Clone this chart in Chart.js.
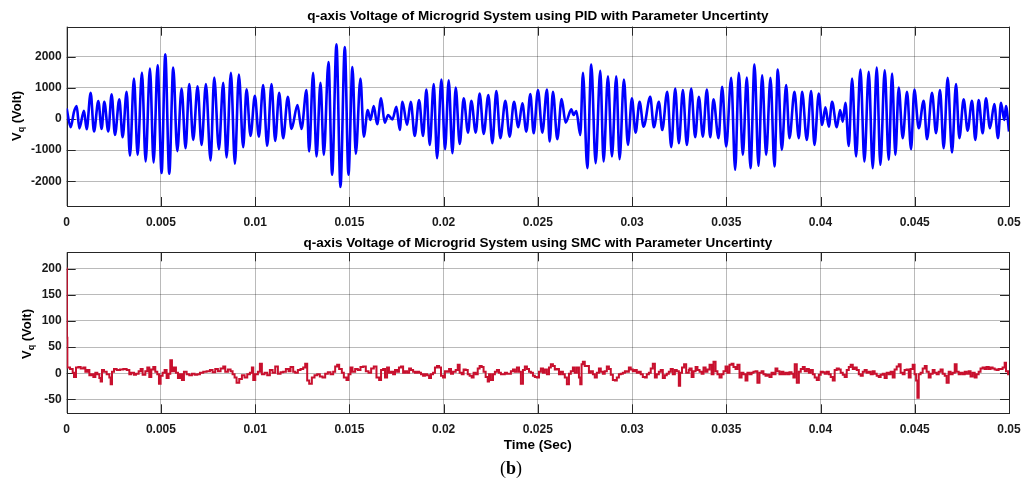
<!DOCTYPE html>
<html>
<head>
    <title>q-axis Voltage of Microgrid System</title>
    <script src="https://cdn.jsdelivr.net/npm/chart.js"></script>
    <style>
        body {
            margin: 0;
            width: 1022px;
            height: 488px;
            background: #fff;
            position: relative;
            overflow: hidden;
            font-family: "Liberation Sans", Arial, sans-serif;
        }

        .box {
            position: absolute;
            left: 0;
            width: 1022px;
        }

        .ylab {
            position: absolute;
            transform: translate(-50%, -50%) rotate(-90deg);
            font-weight: bold;
            font-size: 13px;
            white-space: nowrap;
            color: #000;
        }

        .ylab sub {
            font-size: 9px;
            vertical-align: -3px;
        }

        .caption {
            position: absolute;
            left: 511px;
            top: 468px;
            transform: translate(-50%, -50%);
            font-family: "Liberation Serif", "DejaVu Serif", serif;
            font-size: 18px;
            color: #000;
        }
    </style>
</head>
<body>
<div class="box" style="top:0;height:232px"><canvas id="pid-chart" width="1022" height="232"></canvas></div>
<div class="box" style="top:232px;height:256px"><canvas id="smc-chart" width="1022" height="256"></canvas></div>
<div class="ylab" style="left:17px;top:116px">V<sub>q</sub> (Volt)</div>
<div class="ylab" style="left:27px;top:334px">V<sub>q</sub> (Volt)</div>
<div class="caption">(<b>b</b>)</div>

<script>
    // time in ms, voltage in volt (peaks and troughs)
    const pidTitle = 'q-axis Voltage of Microgrid System using PID with Parameter Uncertinty';
    const smcTitle = 'q-axis Voltage of Microgrid System using SMC with Parameter Uncertinty';
    const xTitle = 'Time (Sec)';

    const timeTicks = [0, 5, 10, 15, 20, 25, 30, 35, 40, 45, 50];
    const timeLabels = ['0', '0.005', '0.01', '0.015', '0.02', '0.025', '0.03', '0.035', '0.04', '0.045', '0.05'];
    const pidTicks = [-2000, -1000, 0, 1000, 2000];
    const smcTicks = [-50, 0, 50, 100, 150, 200];

    const pidVolt = [
        [0, 340], [0.21, -265], [0.387, 230], [0.529, 415], [0.670, -300], [0.917, 265], [1.059, -330], [1.271, 840],
        [1.448, -400], [1.677, 575], [1.854, -320], [1.995, 555], [2.207, -400], [2.384, 790], [2.561, -510],
        [2.791, 630], [2.968, -585], [3.180, 870], [3.356, -1180], [3.568, 1300], [3.763, -1150], [3.993, 1490],
        [4.187, -1360], [4.417, 1620], [4.611, -1390], [4.823, 1720], [5.036, -1730], [5.230, 2075], [5.442, -1755],
        [5.654, 1650], [5.866, -1030], [6.096, 980], [6.308, -935], [6.502, 1117], [6.714, -670], [6.944, 1050],
        [7.156, -830], [7.386, 1117], [7.633, -1330], [7.828, 1330], [8.075, -970], [8.305, 1160], [8.482, -1230],
        [8.712, 1480], [8.924, -1436], [9.136, 1425], [9.365, -905], [9.542, 950], [9.754, -540], [9.984, 745],
        [10.196, -565], [10.426, 1085], [10.638, -860], [10.868, 1117], [11.062, -700], [11.274, 840], [11.486, -617],
        [11.734, 713], [11.928, -320], [12.246, 447], [12.458, -320], [12.724, 925], [12.865, -1040],
        [13.077, 1479], [13.254, -1202], [13.466, 1160], [13.643, -1149], [13.890, 1830], [14.085, -1787],
        [14.314, 2394], [14.527, -2181], [14.756, 2309], [14.951, -1787], [15.163, 1670], [15.339, -1117],
        [15.587, 1298], [15.764, -564], [15.976, 287], [16.117, -32], [16.294, 415], [16.470, -170], [16.683, 660],
        [16.877, -117], [17.054, 128], [17.283, -11], [17.496, 394], [17.672, -351], [17.814, 553], [18.061, -191],
        [18.256, 553], [18.468, -543], [18.697, 606], [18.909, -543], [19.086, 947], [19.263, -830], [19.475, 1117],
        [19.652, -1255], [19.882, 1266], [20.076, -968], [20.270, 1245], [20.465, -1096], [20.642, 1011],
        [20.854, -798], [21.066, 660], [21.295, -436], [21.472, 585], [21.702, -436], [21.914, 819], [22.126, -479],
        [22.374, 766], [22.586, -777], [22.798, 894], [23.010, -617], [23.275, 585], [23.505, -564], [23.734, 553],
        [23.965, -266], [24.177, 500], [24.389, -404], [24.601, 798], [24.777, -457], [25.007, 926], [25.237, -436],
        [25.484, 947], [25.626, -723],
        [25.802, 872], [26.032, -649], [26.262, 638], [26.474, -117], [26.775, 309], [26.898, 128], [27.040, 255],
        [27.252, -511], [27.393, 1479], [27.623, -1575], [27.835, 1745], [28.065, -1415], [28.312, 1543],
        [28.489, -1362], [28.719, 1373], [28.931, -1202], [29.161, 1373], [29.337, -1287], [29.567, 1266],
        [29.779, -830], [29.991, 660], [30.186, -436], [30.398, 553], [30.610, -245], [30.963, 713], [31.157, -266],
        [31.422, 553], [31.600, -351], [31.865, 872], [32.077, -904], [32.289, 979], [32.483, -777], [32.695, 926],
        [32.907, -830], [33.137, 979], [33.349, -585], [33.544, 713], [33.756, -564], [33.968, 947], [34.145, -585],
        [34.321, 628], [34.586, -617], [34.781, 1032], [34.993, -883], [35.258, 1319], [35.470, -1628],
        [35.664, 1479], [35.876, -1149], [36.088, 1330], [36.283, -1575], [36.495, 1745], [36.707, -1500],
        [36.902, 1404], [37.114, -1149], [37.344, 1319], [37.556, -1521], [37.732, 1585], [37.945, -990],
        [38.175, 1085], [38.351, -617],
        [38.616, 872], [38.846, -617], [39.023, 872], [39.270, -670], [39.500, 894], [39.677, -830], [39.906, 819],
        [40.083, -191], [40.260, 372], [40.437, -245], [40.613, 553], [40.861, -266], [41.038, 287], [41.179, -85],
        [41.320, 521], [41.497, -862], [41.674, 1298], [41.886, -1202], [42.116, 1585], [42.328, -1362],
        [42.557, 1511], [42.769, -1575], [42.981, 1649], [43.176, -1468], [43.406, 1564], [43.618, -1309],
        [43.795, 1458], [43.971, -1149], [44.148, 1011], [44.360, -617], [44.590, 872], [44.802, -968], [44.979, 947],
        [45.208, -298], [45.474, 585], [45.650, -649], [45.916, 841], [46.128, -457], [46.340, 926], [46.534, -936],
        [46.746, 1319], [46.976, -1075], [47.188, 1117], [47.365, -617], [47.594, 628], [47.806, -372],
        [48.036, 585], [48.213, -670], [48.390, 606], [48.602, -457], [48.778, 660], [48.991, -298], [49.221, 479],
        [49.415, -617], [49.574, 521], [49.751, -32], [49.839, 415], [50, -404]
    ];

    const smcVolt = [
        [0, 200], [0.01, 68], [0.035, 11], [0.177, 8], [0.318, 1], [0.389, -7], [0.495, 11], [0.619, 12], [0.742, 9],
        [0.884, 11], [0.990, 3], [1.096, 6], [1.202, -4], [1.308, -2], [1.414, -7], [1.520, 1], [1.626, -2],
        [1.732, -9], [1.803, -16], [1.873, 6], [1.980, 3], [2.121, -2], [2.262, -8], [2.333, -21], [2.404, 3],
        [2.510, 8], [2.651, 6], [2.828, 7], [3.005, 8], [3.181, 6], [3.323, -2], [3.429, 1], [3.570, -3], [3.676, -1],
        [3.818, 4], [3.924, 8], [4.030, -3], [4.171, 4], [4.277, 11], [4.383, -7], [4.489, 7], [4.595, 12],
        [4.701, 3], [4.807, -2], [4.896, -20], [4.984, -5], [5.090, 1], [5.196, 6], [5.302, -9], [5.408, -1],
        [5.497, 25], [5.585, 4], [5.691, 11], [5.797, 1], [5.903, -9], [6.009, -2], [6.115, -13], [6.221, 3],
        [6.363, -2], [6.504, -4], [6.645, -1], [6.787, -3], [6.928, -2], [7.070, 1], [7.246, 3], [7.423, 4],
        [7.600, 6], [7.741, 2], [7.883, 8], [8.024, 4], [8.165, 9], [8.307, 13], [8.413, 3], [8.554, 7], [8.696, 4],
        [8.802, -2], [8.908, -8], [9.014, -18], [9.155, -11], [9.297, -4], [9.438, -8], [9.580, -2], [9.721, 1],
        [9.827, 11], [9.898, -13], [10.004, -2], [10.145, 3], [10.251, 18], [10.357, -2], [10.499, 1], [10.640, -4],
        [10.781, 6], [10.923, 1], [11.064, 13], [11.206, -1], [11.347, 2], [11.488, 3], [11.630, 8], [11.771, 4],
        [11.877, 12], [12.018, 3], [12.125, 1], [12.266, 6], [12.407, 8], [12.549, 11], [12.655, 18], [12.761, -14],
        [12.867, -20], [13.008, -8], [13.150, -4], [13.291, -2], [13.432, -6], [13.574, -8], [13.715, -1],
        [13.857, 2], [13.998, -2], [14.139, 3], [14.245, 13], [14.351, 16], [14.457, 8], [14.599, 1], [14.705, -8],
        [14.846, -13], [14.952, -2], [15.058, 11], [15.164, 3], [15.306, 8], [15.447, 6], [15.588, 12], [15.730, 13],
        [15.871, 4], [16.013, 1], [16.154, 9], [16.296, 13], [16.437, -8], [16.578, -13],
        [16.68, 6], [16.79, 8], [16.89, -8], [17.00, 11], [17.10, 1], [17.21, 3], [17.32, -2], [17.42, 6],
        [17.53, 3], [17.63, 11], [17.74, 13], [17.85, 1], [17.95, 4], [18.06, 1], [18.17, 9], [18.27, 6], [18.38, 3],
        [18.48, 1], [18.59, 3], [18.70, 1], [18.80, -2], [18.91, -5], [19.01, -2], [19.12, -4], [19.23, -9],
        [19.33, -2], [19.44, 1], [19.54, 11], [19.65, 14], [19.76, 11], [19.86, -5], [19.97, -8], [20.07, 4],
        [20.18, 3], [20.29, 8], [20.39, -1], [20.50, 3], [20.64, 6], [20.75, 16], [20.85, 1], [20.96, -2], [21.06, 7],
        [21.17, 6], [21.28, -2], [21.38, -5], [21.49, -8], [21.59, 1], [21.70, -2], [21.81, 9], [21.91, 14],
        [22.02, 12], [22.12, 3], [22.23, -7], [22.34, -16], [22.41, -2], [22.51, -13], [22.62, -2], [22.72, 3],
        [22.83, 6], [22.94, 1], [23.04, -2], [23.15, -2], [23.25, 1], [23.36, -1], [23.47, -1], [23.57, 4],
        [23.68, 7], [23.78, 3], [23.89, 11], [24.00, 3], [24.10, -20], [24.21, 6], [24.31, 13], [24.42, 8],
        [24.53, 3], [24.63, 1], [24.74, -5], [24.84, -7], [24.95, -8], [25.06, 3], [25.16, 9], [25.27, 1], [25.37, 7],
        [25.48, -2], [25.59, 11], [25.69, 17], [25.80, 14], [25.90, 7], [26.01, 8], [26.12, -2], [26.22, 3],
        [26.33, -2], [26.43, -8], [26.54, -21], [26.65, -1], [26.75, 4], [26.86, 11], [26.96, 1], [27.07, 11],
        [27.18, -8], [27.25, -21], [27.32, 17], [27.39, 22], [27.49, 14], [27.60, 14], [27.71, 1], [27.81, 4],
        [27.92, -2], [28.02, -8], [28.13, 1], [28.24, 9], [28.34, 3], [28.45, -1], [28.55, 4], [28.66, 13],
        [28.77, 8], [28.87, -3], [28.98, -13], [29.09, -14], [29.19, -8], [29.30, -2], [29.40, -1], [29.51, 1],
        [29.62, 4], [29.72, 3], [29.83, 11], [29.93, 7], [30.04, 4], [30.15, 6], [30.25, 1], [30.36, 3], [30.46, -2],
        [30.57, -7], [30.68, -8], [30.78, -2], [30.89, 1], [30.99, 9], [31.10, 18], [31.21, -8], [31.31, -2],
        [31.42, 3], [31.52, 6], [31.63, -9], [31.74, -4], [31.84, -1], [31.95, 3], [32.05, 8], [32.16, -2],
        [32.27, 6], [32.37, 4], [32.48, -24], [32.55, 1], [32.65, 11], [32.76, 17], [32.87, 1], [33.01, 6],
        [33.05, 9], [33.16, -7], [33.26, 4], [33.37, 12], [33.47, 6], [33.58, 3], [33.69, -1], [33.79, 11],
        [33.90, 3], [34.00, 7], [34.11, 16], [34.22, -2], [34.32, 22], [34.43, 4], [34.53, -2], [34.64, -8],
        [34.75, -2], [34.85, 4], [34.96, 13], [35.06, 1], [35.17, 16], [35.28, 18], [35.38, 12], [35.49, 8],
        [35.59, 16], [35.70, -8], [35.81, 1], [35.91, -2], [36.02, -14], [36.12, 1], [36.23, -2], [36.34, 1],
        [36.44, 3], [36.55, 4], [36.65, -18], [36.76, 1], [36.87, 4], [36.97, -2], [37.08, -5], [37.18, -3],
        [37.29, -7], [37.40, 1], [37.50, -2], [37.61, 9], [37.71, 4], [37.82, -2], [37.93, 3], [38.03, -2],
        [38.14, 1], [38.25, -2], [38.35, 2], [38.46, -1], [38.56, -8], [38.63, 17], [38.74, -18], [38.85, 3],
        [38.95, 8], [39.06, 12], [39.16, 4], [39.27, 8], [39.38, 1], [39.48, 6], [39.59, -2], [39.69, -8],
        [39.80, -13], [39.91, -3], [40.01, 3], [40.12, 2], [40.22, -1], [40.33, 3], [40.44, -2], [40.54, -7],
        [40.65, -14], [40.75, 6], [40.86, 9], [40.97, 7], [41.07, 1], [41.18, -3], [41.28, -7], [41.39, 6],
        [41.50, 12], [41.60, 16], [41.71, 8], [41.81, 11], [41.92, 6], [42.03, -2], [42.13, -5], [42.24, 3],
        [42.34, 6], [42.45, 1], [42.56, 3], [42.66, -2], [42.77, 4], [42.87, -1], [42.98, -5], [43.09, -7],
        [43.19, -3], [43.30, -1], [43.40, -9], [43.51, 1], [43.62, -2], [43.72, 3], [43.83, -8], [43.93, 7],
        [44.04, 13], [44.15, 17], [44.25, 1], [44.36, -2], [44.46, 6], [44.57, 7], [44.68, -8], [44.78, 8],
        [44.89, 16], [44.99, -2], [45.07, -14], [45.14, -47], [45.21, -2], [45.31, 1], [45.42, 9], [45.53, 14],
        [45.63, 3], [45.74, -8], [45.84, -1], [45.95, 6], [46.05, 1], [46.16, -2], [46.27, 3], [46.37, 7],
        [46.48, -1], [46.59, -5], [46.69, -18], [46.80, 3], [46.90, -2], [47.01, 1], [47.12, 17], [47.22, 3],
        [47.33, -2], [47.43, 1], [47.54, -2], [47.65, 3], [47.75, -1], [47.86, 4], [47.96, -6], [48.07, 1],
        [48.18, -8], [48.28, -2], [48.39, 3], [48.49, 9], [48.60, 11], [48.71, 8], [48.81, 12], [48.92, 8],
        [49.02, 11], [49.13, 9], [49.24, 7], [49.34, 6], [49.45, 8], [49.55, 8], [49.66, 11], [49.77, 20],
        [49.84, 4], [49.95, -2], [50, -2]
    ];

    const fontFamily = '"Liberation Sans", Arial, sans-serif';
    const tickFont = {family: fontFamily, size: 12, weight: 'bold'};
    const titleFont = {family: fontFamily, size: 13.5, weight: 'bold'};
    const gridColor = 'rgba(0, 0, 0, 0.27)';
    const axisColor = '#262626';

    // MATLAB style box with inner ticks on all four sides
    const axisBox = {
        id: 'axisBox',
        beforeDatasetsDraw(chart) {
            const {ctx, chartArea: a, scales: {x, y}} = chart;
            const len = 9;
            ctx.save();
            ctx.strokeStyle = axisColor;
            ctx.lineWidth = 1;
            ctx.beginPath();
            x.ticks.forEach(t => {
                const px = Math.round(x.getPixelForValue(t.value)) + 0.5;
                ctx.moveTo(px, a.bottom);
                ctx.lineTo(px, a.bottom - len);
                ctx.moveTo(px, a.top);
                ctx.lineTo(px, a.top + len);
            });
            y.ticks.forEach(t => {
                const py = Math.round(y.getPixelForValue(t.value)) + 0.5;
                ctx.moveTo(a.left, py);
                ctx.lineTo(a.left + len, py);
                ctx.moveTo(a.right, py);
                ctx.lineTo(a.right - len, py);
            });
            ctx.stroke();
            ctx.strokeRect(Math.round(a.left) + 0.5, Math.round(a.top) + 0.5,
                Math.round(a.right - a.left), Math.round(a.bottom - a.top));
            ctx.restore();
        }
    };

    function makeOptions(cfg) {
        return {
            responsive: false,
            animation: false,
            events: [],
            layout: {padding: {left: 0, right: 13, top: 0, bottom: 0}},
            plugins: {
                legend: {display: false},
                tooltip: {enabled: false},
                title: {
                    display: true,
                    text: cfg.title,
                    fullSize: false,
                    color: '#000',
                    font: titleFont,
                    padding: cfg.titlePadding
                }
            },
            scales: {
                x: {
                    type: 'linear',
                    min: 0,
                    max: 50,
                    afterBuildTicks: s => { s.ticks = timeTicks.map(v => ({value: v})); },
                    ticks: {
                        autoSkip: false,
                        maxRotation: 0,
                        padding: 9,
                        color: '#1a1a1a',
                        font: tickFont,
                        callback: v => timeLabels[timeTicks.indexOf(v)]
                    },
                    grid: {color: gridColor, drawTicks: false},
                    border: {display: false},
                    title: cfg.xTitle ? {
                        display: true,
                        text: cfg.xTitle,
                        color: '#000',
                        font: titleFont,
                        padding: {top: 0, bottom: 35}
                    } : {display: false},
                    afterFit: s => {
                        s.height = cfg.xHeight;
                        s.paddingLeft = 0;
                        s.paddingRight = 0;
                    }
                },
                y: {
                    min: cfg.yMin,
                    max: cfg.yMax,
                    afterBuildTicks: s => { s.ticks = cfg.yTicks.map(v => ({value: v})); },
                    ticks: {
                        padding: 5,
                        color: '#1a1a1a',
                        font: tickFont,
                        callback: v => String(v)
                    },
                    grid: {color: gridColor, drawTicks: false},
                    border: {display: false},
                    afterFit: s => {
                        s.width = 66.7;
                        s.paddingTop = 0;
                        s.paddingBottom = 0;
                    }
                }
            }
        };
    }

    new Chart(document.getElementById('pid-chart'), {
        type: 'line',
        data: {
            datasets: [{
                data: pidVolt.map(p => ({x: p[0], y: p[1]})),
                borderColor: '#0000ff',
                borderWidth: 2.6,
                pointRadius: 0,
                cubicInterpolationMode: 'monotone',
                fill: false
            }]
        },
        options: makeOptions({
            title: pidTitle,
            titlePadding: {top: 7.9, bottom: 2.6},
            xHeight: 26,
            yMin: -2790,
            yMax: 2960,
            yTicks: pidTicks
        }),
        plugins: [axisBox]
    });

    new Chart(document.getElementById('smc-chart'), {
        type: 'line',
        data: {
            datasets: [{
                data: smcVolt.map(p => ({x: p[0], y: p[1]})),
                borderColor: '#c8102e',
                borderWidth: 2,
                pointRadius: 0,
                stepped: true,
                fill: false
            }]
        },
        options: makeOptions({
            title: smcTitle,
            titlePadding: {top: 3.4, bottom: 0.7},
            xTitle: xTitle,
            xHeight: 74.7,
            yMin: -76.5,
            yMax: 231,
            yTicks: smcTicks
        }),
        plugins: [axisBox]
    });
</script>
</body>
</html>
